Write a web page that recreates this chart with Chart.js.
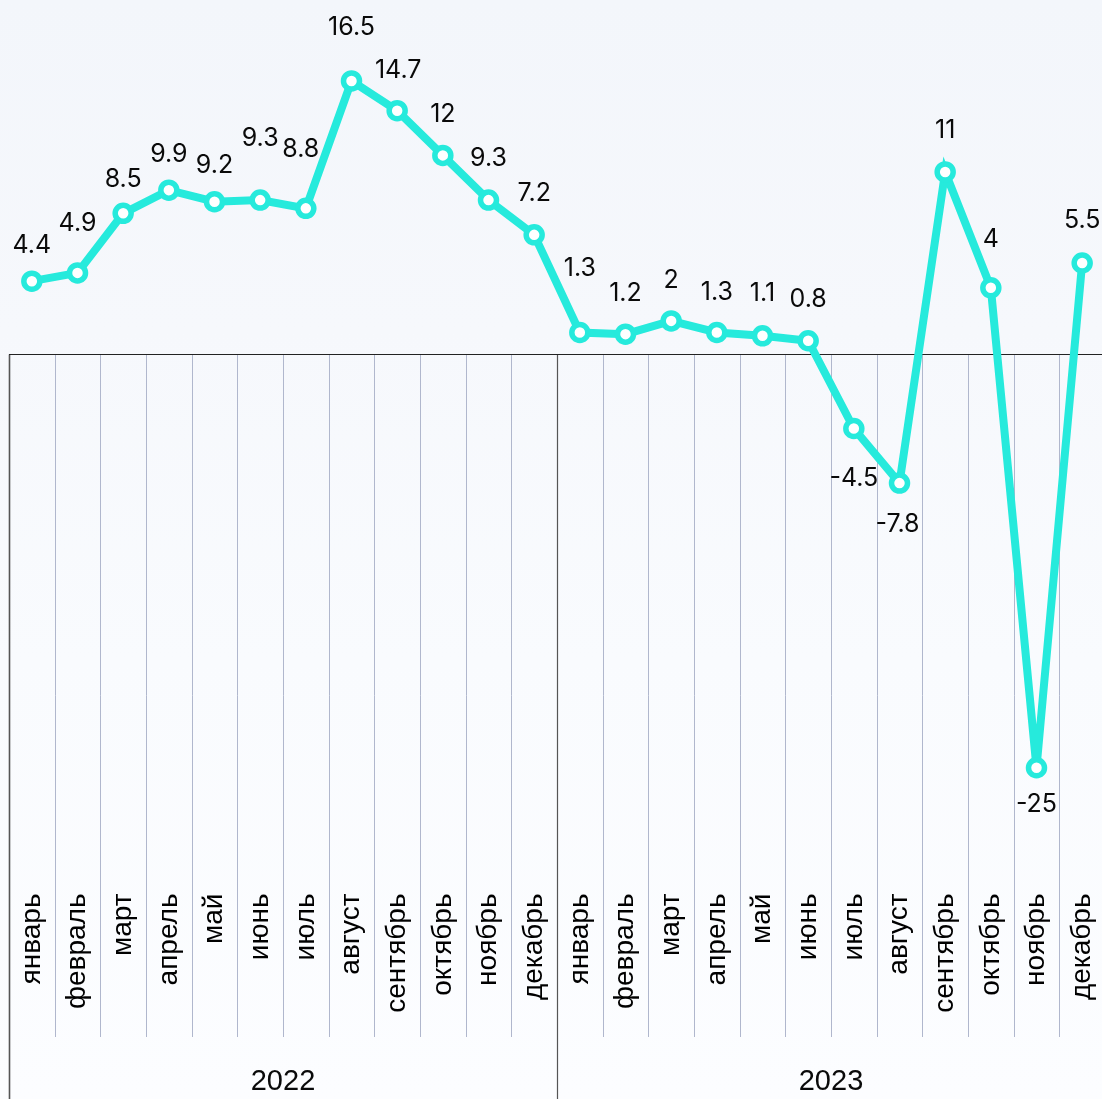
<!DOCTYPE html>
<html><head><meta charset="utf-8">
<script src="https://cdn.jsdelivr.net/npm/chart.js@4.4.0/dist/chart.umd.min.js"></script>
<style>
html,body{margin:0;padding:0;overflow:hidden;width:1102px;height:1099px;}
body{background:linear-gradient(to bottom,#f3f6fb 0%,#f6f8fc 30%,#f9fbfe 60%,#fcfdff 100%);}
#wrap{position:relative;width:1105px;height:1099px;}
</style></head><body>
<div id="wrap"><canvas id="c" width="1105" height="1099"></canvas></div>
<script>
const months = ['январь','февраль','март','апрель','май','июнь','июль','август','сентябрь','октябрь','ноябрь','декабрь'];
const years = ['2022','2023'];
const categories = years.flatMap(() => months);
const values = [4.4,4.9,8.5,9.9,9.2,9.3,8.8,16.5,14.7,12,9.3,7.2, 1.3,1.2,2,1.3,1.1,0.8,-4.5,-7.8,11,4,-25,5.5];
// label offset (px) from the point, negative = above
const labelOffsets = [-36,-49,-34,-36,-36,-62,-59,-53,-40,-41,-42,-41, -64,-41,-40,-40,-42,-41,50,41,-41,-48,37,-42];
const labelShiftX = [0,0,0,0,0,0,-5,0,1,0,0,0, 0,0,0,0,0,0,0,-2,0,0,0,0];

const LINE = '#26eadc';

const decor = {
  id: 'decor',
  beforeDatasetsDraw(chart) {
    const {ctx, scales: {x, y}, chartArea} = chart;
    const n = categories.length;
    const band = (chartArea.right - chartArea.left) / n;
    const y0 = Math.round(y.getPixelForValue(0)) + 0.5;
    const H = chart.height;
    ctx.save();
    for (let i = 1; i < n; i++) {
      if (i % months.length === 0) continue;
      const xp = Math.round(x.getPixelForValue(i) - band / 2) + 0.5;
      ctx.strokeStyle = '#b0b7cd';
      ctx.lineWidth = 1;
      ctx.beginPath(); ctx.moveTo(xp, y0); ctx.lineTo(xp, 1037); ctx.stroke();
    }
    for (let g = 0; g < years.length; g++) {
      const xp = Math.round(x.getPixelForValue(g * months.length) - band / 2) + 0.5;
      ctx.strokeStyle = '#555';
      ctx.lineWidth = g === 0 ? 1.6 : 1.2;
      ctx.beginPath(); ctx.moveTo(xp, y0); ctx.lineTo(xp, H); ctx.stroke();
    }
    ctx.strokeStyle = '#222';
    ctx.lineWidth = 1;
    ctx.beginPath(); ctx.moveTo(chartArea.left, y0); ctx.lineTo(chartArea.right, y0); ctx.stroke();
    ctx.restore();
  },
  afterDatasetsDraw(chart) {
    const {ctx} = chart;
    const meta = chart.getDatasetMeta(0);
    ctx.save();
    ctx.fillStyle = '#0a0a0a';
    ctx.font = '25px Inter, "Liberation Sans", sans-serif';
    ctx.textAlign = 'center';
    ctx.textBaseline = 'middle';
    meta.data.forEach((pt, i) => {
      ctx.fillText(String(values[i]), pt.x + labelShiftX[i], pt.y + labelOffsets[i]);
    });
    const x = chart.scales.x;
    const band = (chart.chartArea.right - chart.chartArea.left) / categories.length;
    ctx.font = '29px "Liberation Sans", Arial, sans-serif';
    years.forEach((yr, g) => {
      const a = x.getPixelForValue(g * months.length) - band / 2;
      const b = x.getPixelForValue((g + 1) * months.length - 1) + band / 2;
      ctx.fillText(yr, (a + b) / 2, 1082);
    });
    ctx.restore();
  }
};

new Chart(document.getElementById('c'), {
  type: 'line',
  data: {
    labels: categories,
    datasets: [{
      data: values,
      borderColor: LINE,
      borderWidth: 8,
      pointRadius: 8,
      pointBorderWidth: 5.5,
      pointBackgroundColor: '#ffffff',
      pointBorderColor: LINE,
      tension: 0,
      clip: false
    }]
  },
  options: {
    responsive: false,
    animation: false,
    devicePixelRatio: 1,
    layout: {autoPadding: false, padding: {left: 9, right: 0, top: 0, bottom: 0}},
    plugins: {legend: {display: false}, tooltip: {enabled: false}},
    scales: {
      y: {display: false, min: -30, max: 21.39},
      x: {
        offset: true,
        grid: {display: false, drawTicks: false},
        border: {display: false},
        ticks: {
          autoSkip: false, minRotation: 90, maxRotation: 90,
          color: '#000', padding: 43,
          font: {family: '"Liberation Sans", Arial, sans-serif', size: 28}
        },
        afterFit(s) { s.height = 248.5; s.paddingLeft = 0; s.paddingRight = 0; }
      }
    }
  },
  plugins: [decor]
});
</script>
</body></html>
